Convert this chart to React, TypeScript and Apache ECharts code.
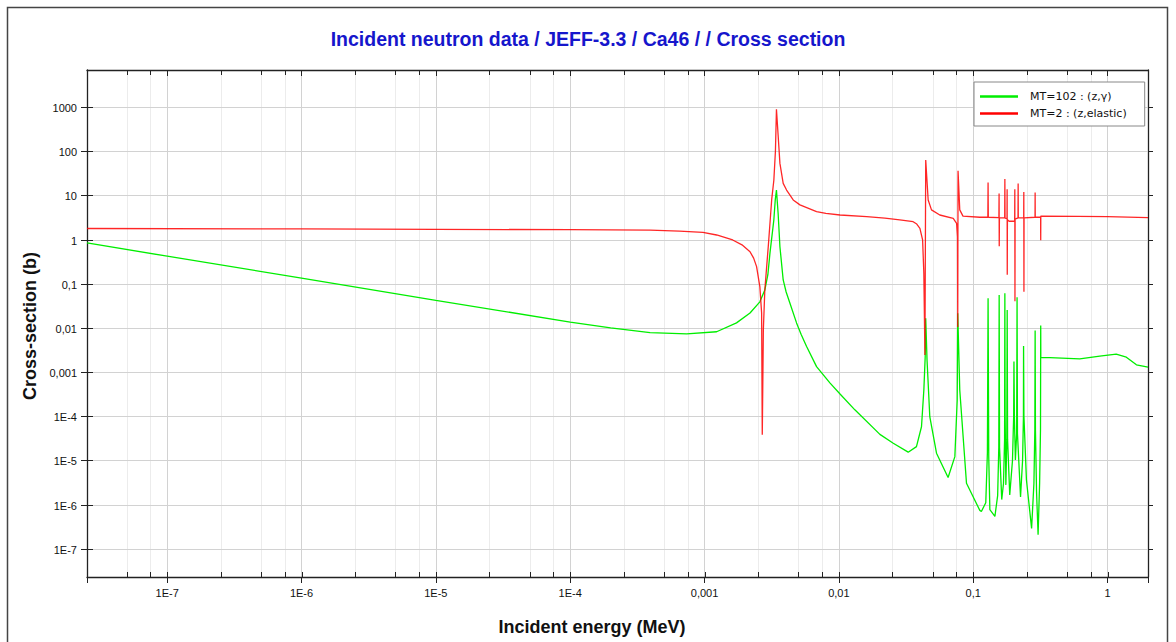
import React, { useEffect, useRef } from "react";
import * as echarts from "echarts";

const TITLE = "Incident neutron data / JEFF-3.3 / Ca46 / / Cross section";
const X_NAME = "Incident energy (MeV)";
const Y_NAME = "Cross-section (b)";
const CAPTURE_NAME = "MT=102 : (z,γ)";
const ELASTIC_NAME = "MT=2 : (z,elastic)";

const X_MIN = 2.53e-8;
const X_MAX = 2.0;
const Y_MIN = 2.3e-8;
const Y_MAX = 6900;

// MT=102 capture cross-section (energy in MeV, value in barns)
const captureE = [
  2.53e-8, 1e-7, 1e-6, 1e-5, 1e-4, 2e-4, 3.93e-4, 7.36e-4, 1.23e-3, 1.73e-3,
  2.18e-3, 2.58e-3, 2.81e-3, 2.96e-3, 3.07e-3, 3.28e-3, 3.36e-3, 3.43e-3, 3.53e-3, 3.64e-3,
  3.85e-3, 4.05e-3, 4.31e-3, 4.84e-3, 5.25e-3, 5.75e-3, 6.82e-3, 8.57e-3, 0.0102, 0.01315,
  0.0202, 0.0254, 0.0328, 0.0378, 0.0412, 0.0429, 0.0439, 0.0443, 0.0453, 0.0475,
  0.0533, 0.065, 0.073, 0.076, 0.0767, 0.0794, 0.0891, 0.112, 0.115, 0.124,
  0.1275, 0.129, 0.1305, 0.133, 0.145, 0.152, 0.155, 0.156, 0.157, 0.163,
  0.168, 0.1712, 0.172, 0.1728, 0.175, 0.1778, 0.179, 0.1802, 0.187, 0.196,
  0.2, 0.201, 0.2025, 0.206, 0.2105, 0.212, 0.2135, 0.225, 0.233, 0.2365,
  0.237, 0.2385, 0.249, 0.272, 0.283, 0.2875, 0.289, 0.2905, 0.296, 0.304,
  0.312, 0.3168, 0.318, 0.3185, 0.372, 0.621, 0.875, 1.16, 1.38, 1.64,
  2.0,
];
const captureXS = [
  0.84, 0.42, 0.134, 0.042, 0.0136, 0.01, 0.0078, 0.0073, 0.0082, 0.013,
  0.0218, 0.039, 0.072, 0.16, 0.5, 2.8, 7.9, 13.2, 3.9, 0.69,
  0.122, 0.065, 0.037, 0.013, 0.007, 0.0038, 0.00133, 5.7e-4, 3.2e-4, 1.4e-4,
  3.9e-5, 2.46e-5, 1.54e-5, 2.06e-5, 5.8e-5, 3.95e-4, 2.2e-3, 0.0166, 1.9e-3, 9.8e-5,
  1.46e-5, 4.1e-6, 1.22e-5, 2.35e-4, 0.0215, 3.95e-4, 3.06e-6, 7.4e-7, 7.0e-7, 1.1e-6,
  1.5e-5, 0.047, 1.2e-5, 7.7e-7, 5.4e-7, 1.6e-6, 2.0e-5, 0.056, 2.0e-5, 1.3e-6,
  3e-6, 3e-5, 0.061, 1e-4, 2.8e-6, 3e-5, 0.0255, 3e-5, 1.66e-6, 1e-5,
  1e-4, 1.73e-3, 1e-4, 1.03e-5, 4e-5, 0.0495, 4e-5, 1.5e-6, 1e-5, 1e-4,
  3.9e-3, 1e-4, 3.6e-6, 2.9e-7, 3e-6, 5e-5, 8.7e-3, 5e-5, 2e-6, 2.07e-7,
  3e-6, 5e-5, 0.0113, 2.13e-3, 2.13e-3, 2.0e-3, 2.3e-3, 2.54e-3, 2.17e-3, 1.46e-3,
  1.29e-3,
];

// MT=2 elastic cross-section
const elasticE = [
  2.53e-8, 1e-6, 1e-5, 1e-4, 3.93e-4, 6.5e-4, 9.73e-4, 1.23e-3, 1.62e-3, 1.9e-3,
  2.18e-3, 2.32e-3, 2.44e-3, 2.58e-3, 2.66e-3, 2.69e-3, 2.74e-3, 2.81e-3, 2.98e-3, 3.16e-3,
  3.28e-3, 3.37e-3, 3.43e-3, 3.53e-3, 3.64e-3, 3.85e-3, 4.08e-3, 4.57e-3, 5.13e-3, 6.82e-3,
  8e-3, 0.0102, 0.0161, 0.022, 0.0284, 0.0357, 0.038, 0.0401, 0.042, 0.0429,
  0.0437, 0.0443, 0.0462, 0.0489, 0.0564, 0.071, 0.0752, 0.0764, 0.0767, 0.0771,
  0.0794, 0.0839, 0.112, 0.1285, 0.129, 0.1295, 0.1553, 0.1558, 0.1562, 0.1567,
  0.1715, 0.172, 0.1725, 0.1785, 0.1788, 0.1792, 0.1797, 0.185, 0.2035, 0.204,
  0.2045, 0.205, 0.2155, 0.216, 0.2165, 0.2375, 0.238, 0.2385, 0.239, 0.2885,
  0.289, 0.2895, 0.3175, 0.318, 0.3185, 0.6, 1.0, 2.0,
];
const elasticXS = [
  1.78, 1.74, 1.7, 1.68, 1.63, 1.56, 1.46, 1.27, 0.98, 0.76,
  0.53, 0.38, 0.244, 0.086, 0.0218, 3.8e-5, 9.0e-3, 0.072, 0.69, 7.9,
  22, 100, 890, 230, 53, 18.7, 13.2, 7.9, 6.1, 4.3,
  3.9, 3.6, 3.3, 3.05, 2.8, 2.54, 2.25, 1.8, 0.98, 0.17,
  2.45e-3, 63, 7.9, 4.7, 3.6, 3.03, 2.34, 1.16, 0.0105, 36,
  4.7, 3.4, 3.2, 3.2, 19.6, 3.2, 3.15, 11, 0.71, 3.1,
  3.1, 23.5, 3.05, 3.0, 13.8, 0.16, 2.8, 2.6, 2.6, 13.8,
  0.04, 2.9, 3.1, 18.6, 3.1, 3.1, 12, 0.066, 3.1, 3.2,
  11.7, 3.2, 3.2, 0.97, 3.4, 3.35, 3.3, 3.15,
];

// axis tick positions
const minorMantissas = [2.5, 5, 7.5];
const minorDecades = [-8, -7, -6, -5, -4, -3, -2, -1, 0];
const xMajorExponents = [-7, -6, -5, -4, -3, -2, -1, 0];
const yMajorExponents = [-7, -6, -5, -4, -3, -2, -1, 0, 1, 2, 3];

function fmtLog(v: number): string {
  const lg = Math.log10(v);
  const r = Math.round(lg);
  if (Math.abs(lg - r) > 1e-6) return "";
  if (r >= 0) return String(Math.round(Math.pow(10, r)));
  if (r >= -3) return Math.pow(10, r).toFixed(-r).replace(".", ",");
  return "1E" + r;
}

export default function App() {
  const ref = useRef<HTMLDivElement>(null);
  useEffect(() => {
    if (!ref.current) return;
    const chart = echarts.init(ref.current, undefined, { renderer: "svg" });

    const tickItems: number[][] = [];
    minorDecades.forEach((d) => {
      minorMantissas.forEach((m) => {
        const v = m * Math.pow(10, d);
        if (v > X_MIN && v < X_MAX) tickItems.push([v, 1, 0]);
      });
    });
    xMajorExponents.forEach((e) => tickItems.push([Math.pow(10, e), 1, 1]));
    yMajorExponents.forEach((e) => tickItems.push([1, Math.pow(10, e), 2]));

    const font = "Liberation Sans";
    const axisColor = "#222";
    const gridColor = "#d2d2d2";

    const option: any = {
      animation: false,
      backgroundColor: "#fff",
      title: {
        text: TITLE,
        left: "center",
        top: 24,
        textStyle: { color: "#1616cc", fontSize: 19.5, fontWeight: "bold", fontFamily: font },
      },
      legend: {
        data: [CAPTURE_NAME, ELASTIC_NAME],
        orient: "vertical",
        left: 974,
        top: 82,
        backgroundColor: "#fff",
        borderColor: "#888",
        borderWidth: 1,
        borderRadius: 0,
        padding: [8, 18, 6, 6],
        itemGap: 4,
        itemWidth: 38,
        itemHeight: 2.5,
        icon: "rect",
        textStyle: { fontSize: 11, fontFamily: "DejaVu Sans", color: "#111", padding: [0, 0, 0, 7], lineHeight: 13 },
      },
      grid: { left: 87, top: 70, right: 28, bottom: 65, containLabel: false },
      xAxis: [
        {
          type: "log",
          logBase: 10,
          min: X_MIN,
          max: X_MAX,
          splitNumber: 8,
          position: "bottom",
          axisLine: { show: true, lineStyle: { color: axisColor, width: 1.3 } },
          axisTick: { show: true, inside: false, length: 6, lineStyle: { color: axisColor } },
          axisLabel: { formatter: fmtLog, margin: 10, fontSize: 11, fontFamily: font, color: "#111" },
          splitLine: { show: true, lineStyle: { color: gridColor, width: 1 } },
        },
        {
          type: "log",
          logBase: 10,
          min: X_MIN,
          max: X_MAX,
          splitNumber: 8,
          position: "top",
          axisLine: { show: true, lineStyle: { color: axisColor, width: 1.3 } },
          axisTick: { show: true, inside: true, length: 6, lineStyle: { color: axisColor } },
          axisLabel: { show: false },
          splitLine: { show: false },
        },
      ],
      yAxis: [
        {
          type: "log",
          logBase: 10,
          min: Y_MIN,
          max: Y_MAX,
          position: "left",
          axisLine: { show: true, lineStyle: { color: axisColor, width: 1.3 } },
          axisTick: { show: false },
          axisLabel: { show: false },
          splitLine: { show: false },
        },
        {
          type: "log",
          logBase: 10,
          min: Y_MIN,
          max: Y_MAX,
          position: "right",
          axisLine: { show: true, lineStyle: { color: axisColor, width: 1.3 } },
          axisTick: { show: false },
          axisLabel: { show: false },
          splitLine: { show: false },
        },
      ],
      graphic: [
        {
          type: "rect",
          silent: true,
          z: -10,
          shape: { x: 7.5, y: 7.5, width: 1160, height: 700 },
          style: { fill: "none", stroke: "#444", lineWidth: 1.5 },
        },
        {
          type: "text",
          x: 592,
          y: 627,
          style: {
            text: X_NAME,
            fontSize: 18,
            fontWeight: "bold",
            fontFamily: font,
            fill: "#111",
            align: "center",
            verticalAlign: "middle",
          },
        },
        {
          type: "text",
          x: 30,
          y: 326,
          rotation: Math.PI / 2,
          style: {
            text: Y_NAME,
            fontSize: 18,
            fontWeight: "bold",
            fontFamily: font,
            fill: "#111",
            align: "center",
            verticalAlign: "middle",
          },
        },
      ],
      series: [
        {
          type: "custom",
          name: "ticks",
          silent: true,
          z: 1,
          clip: false,
          xAxisIndex: 0,
          yAxisIndex: 0,
          encode: { x: 0, y: 1 },
          data: tickItems,
          renderItem: (params: any, api: any) => {
            const kind = api.value(2);
            const cs = params.coordSys;
            const top = cs.y;
            const bottom = cs.y + cs.height;
            const left = cs.x;
            const right = cs.x + cs.width;
            const tickStyle = { stroke: axisColor, lineWidth: 1 };
            if (kind === 0 || kind === 1) {
              const px = Math.round(api.coord([api.value(0), 1])[0]) + 0.5;
              if (kind === 0) {
                return {
                  type: "group",
                  children: [
                    { type: "line", shape: { x1: px, y1: top, x2: px, y2: bottom }, style: { stroke: "#ececec", lineWidth: 1 } },
                    { type: "line", shape: { x1: px, y1: bottom, x2: px, y2: bottom - 5 }, style: tickStyle },
                    { type: "line", shape: { x1: px, y1: top, x2: px, y2: top + 5 }, style: tickStyle },
                  ],
                };
              }
              return { type: "line", shape: { x1: px, y1: bottom, x2: px, y2: bottom - 5 }, style: tickStyle };
            }
            const yv = api.value(1);
            const py = Math.round(api.coord([1, yv])[1]) + 0.5;
            return {
              type: "group",
              children: [
                { type: "line", shape: { x1: left, y1: py, x2: right, y2: py }, style: { stroke: gridColor, lineWidth: 1 } },
                { type: "line", shape: { x1: left - 6, y1: py, x2: left + 6, y2: py }, style: tickStyle },
                { type: "line", shape: { x1: right, y1: py, x2: right + 5, y2: py }, style: tickStyle },
                {
                  type: "text",
                  x: left - 10,
                  y: py,
                  style: {
                    text: fmtLog(yv),
                    fontSize: 11,
                    fontFamily: font,
                    fill: "#111",
                    align: "right",
                    verticalAlign: "middle",
                  },
                },
              ],
            };
          },
        },
        {
          type: "line",
          name: CAPTURE_NAME,
          xAxisIndex: 0,
          yAxisIndex: 0,
          showSymbol: false,
          symbol: "none",
          smooth: false,
          color: "#00ee00",
          lineStyle: { color: "#00ee00", width: 1.3 },
          data: captureE.map((e, i) => [e, captureXS[i]]),
          z: 3,
        },
        {
          type: "line",
          name: ELASTIC_NAME,
          xAxisIndex: 0,
          yAxisIndex: 0,
          showSymbol: false,
          symbol: "none",
          smooth: false,
          color: "#ff0000",
          lineStyle: { color: "#ff0000", width: 1.3, opacity: 0.85 },
          data: elasticE.map((e, i) => [e, elasticXS[i]]),
          z: 4,
        },
      ],
    };
    chart.setOption(option);
    return () => chart.dispose();
  }, []);
  return (
    <div
      ref={ref}
      style={{ position: "fixed", left: 0, top: 0, width: 1176, height: 642, background: "#fff" }}
    />
  );
}
